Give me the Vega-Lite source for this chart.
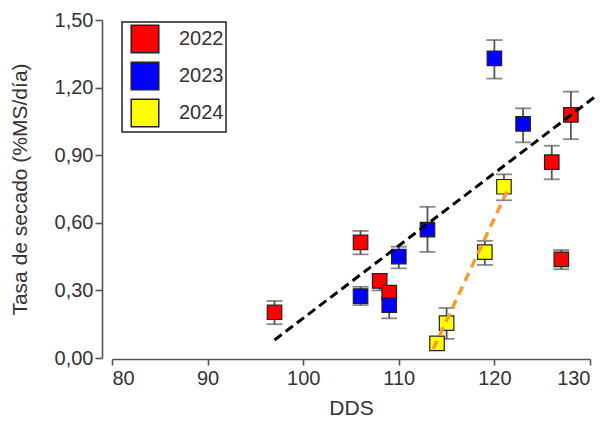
{
  "$schema": "https://vega.github.io/schema/vega-lite/v6.json",
  "width": 478,
  "height": 338,
  "autosize": "none",
  "padding": {"left": 112, "top": 20, "right": 19, "bottom": 65},
  "background": "white",
  "config": {
    "view": {"stroke": null},
    "font": "Liberation Sans",
    "legend": {"strokeWidth": 1.5},
    "axis": {
      "grid": false,
      "domainColor": "#555555",
      "domainWidth": 1.6,
      "tickColor": "#555555",
      "tickWidth": 1.6,
      "labelFont": "Liberation Sans",
      "labelFontSize": 20,
      "labelColor": "#333333",
      "titleFont": "Liberation Sans",
      "titleFontSize": 21,
      "titleFontWeight": "normal",
      "titleColor": "#333333"
    }
  },
  "datasets": {
    "pts": [
      {"year": "2022", "dds": 97, "tasa": 0.203, "lo": 0.15, "hi": 0.253},
      {"year": "2022", "dds": 106, "tasa": 0.513, "lo": 0.46, "hi": 0.564},
      {"year": "2022", "dds": 108, "tasa": 0.342, "lo": 0.30, "hi": 0.372},
      {"year": "2022", "dds": 109, "tasa": 0.29, "lo": 0.27, "hi": 0.31},
      {"year": "2022", "dds": 126, "tasa": 0.869, "lo": 0.793, "hi": 0.942},
      {"year": "2022", "dds": 128, "tasa": 1.079, "lo": 0.971, "hi": 1.182},
      {"year": "2022", "dds": 127, "tasa": 0.438, "lo": 0.394, "hi": 0.479},
      {"year": "2023", "dds": 106, "tasa": 0.275, "lo": 0.235, "hi": 0.316},
      {"year": "2023", "dds": 109, "tasa": 0.235, "lo": 0.176, "hi": 0.29},
      {"year": "2023", "dds": 110, "tasa": 0.45, "lo": 0.398, "hi": 0.494},
      {"year": "2023", "dds": 113, "tasa": 0.57, "lo": 0.471, "hi": 0.671},
      {"year": "2023", "dds": 120, "tasa": 1.33, "lo": 1.24, "hi": 1.411},
      {"year": "2023", "dds": 123, "tasa": 1.039, "lo": 0.957, "hi": 1.108},
      {"year": "2024", "dds": 114, "tasa": 0.065, "lo": 0.05, "hi": 0.08},
      {"year": "2024", "dds": 115, "tasa": 0.155, "lo": 0.085, "hi": 0.222},
      {"year": "2024", "dds": 119, "tasa": 0.47, "lo": 0.413, "hi": 0.52},
      {"year": "2024", "dds": 121, "tasa": 0.76, "lo": 0.70, "hi": 0.815}
    ],
    "black": [
      {"x": 97, "y": 0.08},
      {"x": 130.7, "y": 1.165}
    ],
    "orange": [
      {"x": 113.6, "y": 0.04},
      {"x": 121.6, "y": 0.765}
    ]
  },
  "layer": [
    {
      "data": {"name": "pts"},
      "mark": {"type": "rule", "color": "#555555", "strokeWidth": 1.8},
      "encoding": {
        "x": {"field": "dds", "type": "quantitative", "scale": {"domain": [80, 130], "nice": false, "zero": false},
          "axis": {"values": [80, 90, 100, 110, 120, 130], "tickSize": 6, "labelPadding": 3, "offset": 1, "title": "DDS", "titlePadding": 9}},
        "y": {"field": "lo", "type": "quantitative", "scale": {"domain": [0, 1.5], "nice": false},
          "axis": {"values": [0, 0.3, 0.6, 0.9, 1.2, 1.5], "offset": 10, "tickSize": 7, "labelPadding": 2,
            "labelExpr": "replace(format(datum.value, '.2f'), '.', ',')",
            "title": "Tasa de secado (%MS/día)", "titlePadding": 24}},
        "y2": {"field": "hi"}
      }
    },
    {
      "data": {"name": "pts"},
      "mark": {"type": "tick", "orient": "horizontal", "color": "#555555", "size": 16, "thickness": 1.8},
      "encoding": {
        "x": {"field": "dds", "type": "quantitative"},
        "y": {"field": "lo", "type": "quantitative"}
      }
    },
    {
      "data": {"name": "pts"},
      "mark": {"type": "tick", "orient": "horizontal", "color": "#555555", "size": 16, "thickness": 1.8},
      "encoding": {
        "x": {"field": "dds", "type": "quantitative"},
        "y": {"field": "hi", "type": "quantitative"}
      }
    },
    {
      "data": {"name": "pts"},
      "mark": {"type": "point", "shape": "square", "filled": true, "size": 210, "stroke": "#222222", "strokeWidth": 1.2, "opacity": 1},
      "encoding": {
        "x": {"field": "dds", "type": "quantitative"},
        "y": {"field": "tasa", "type": "quantitative"},
        "color": {
          "field": "year", "type": "nominal",
          "scale": {"domain": ["2022", "2023", "2024"], "range": ["#FF0000", "#0000FF", "#FFFF00"]},
          "legend": {
            "title": null,
            "orient": "none",
            "legendX": 10,
            "legendY": 2,
            "symbolType": "square",
            "symbolSize": 760,
            "symbolStrokeColor": "#222222",
            "symbolStrokeWidth": 1.5,
            "symbolOpacity": 1,
            "symbolOffset": 6,
            "labelFont": "Liberation Sans",
            "labelFontSize": 20,
            "labelColor": "#333333",
            "labelOffset": 19,
            "rowPadding": 3,
            "padding": 2,
            "strokeColor": "#222222",
            "fillColor": "white"
          }
        }
      }
    },
    {
      "data": {"name": "black"},
      "mark": {"type": "line", "color": "black", "strokeWidth": 3, "strokeDash": [9, 5], "clip": false},
      "encoding": {
        "x": {"field": "x", "type": "quantitative"},
        "y": {"field": "y", "type": "quantitative"}
      }
    },
    {
      "data": {"name": "orange"},
      "mark": {"type": "line", "color": "#F79E32", "strokeWidth": 3.5, "strokeDash": [9, 6]},
      "encoding": {
        "x": {"field": "x", "type": "quantitative"},
        "y": {"field": "y", "type": "quantitative"}
      }
    }
  ]
}
